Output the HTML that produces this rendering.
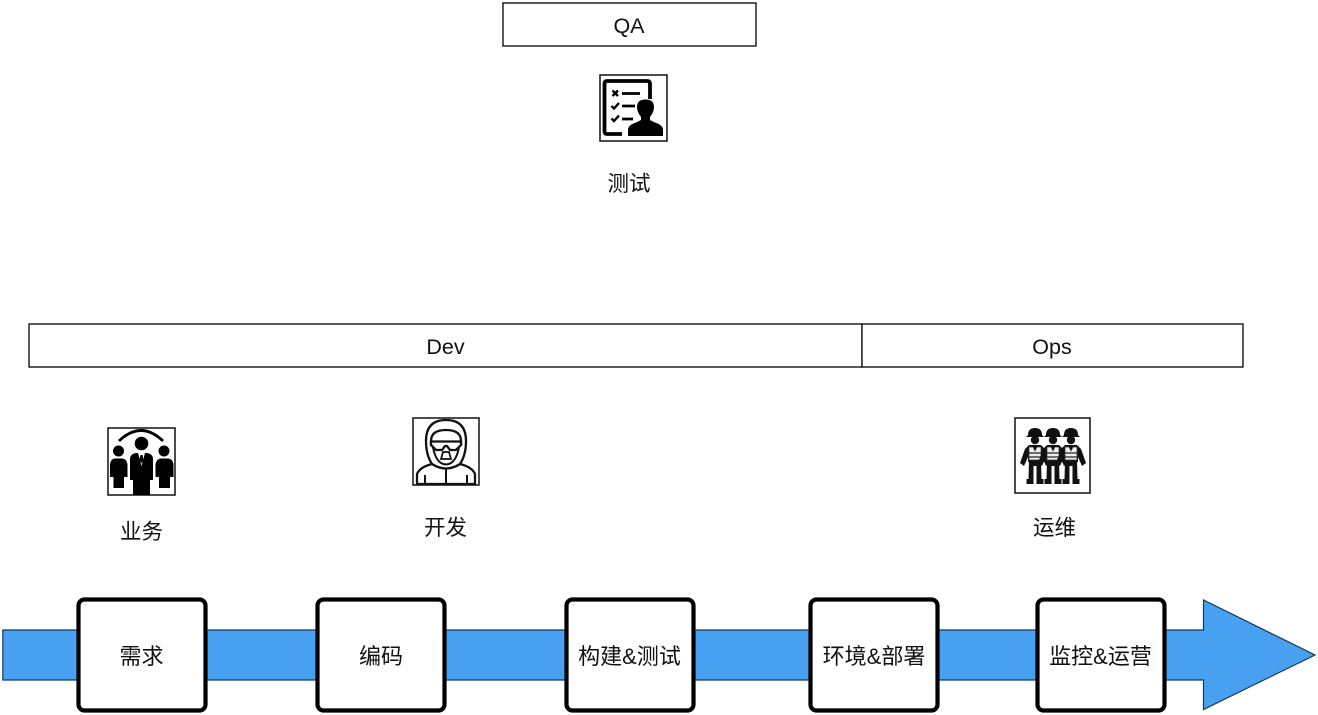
<!DOCTYPE html>
<html>
<head>
<meta charset="utf-8">
<style>
html,body{margin:0;padding:0;background:#fff;width:1318px;height:715px;overflow:hidden}
svg{display:block}
text{font-family:"Liberation Sans","Noto Sans CJK SC",sans-serif;font-size:21.5px;fill:#111;text-anchor:middle}
text.b{font-size:22px}
.bx{fill:#fff;stroke:#000;stroke-width:1.3}
.st{fill:#fff;stroke:#000;stroke-width:4.2}
.ic{fill:#fff;stroke:#111;stroke-width:1.5}
</style>
</head>
<body>
<svg width="1318" height="715" viewBox="0 0 1318 715" xmlns="http://www.w3.org/2000/svg">
<defs>
<g id="w">
<path d="M1028 435Q1028 428 1035 428Q1042 428 1042 435L1044 437H1026Z" fill="#111"/>
<circle cx="1035" cy="440" r="4.200" fill="#111"/>
<path d="M1029 445H1041L1045 449L1050 463L1046 466L1042 457V462H1028V457L1024 466L1020 463L1025 449Z" fill="#111"/>
<path d="M1029 447H1033L1035 451L1037 447H1041V460H1029Z" fill="#eee" stroke="#333" stroke-width=".7"/>
<path d="M1029 453H1041M1029 457H1041" stroke="#222" stroke-width="1.300"/>
<path d="M1029 461H1041L1041.500 479H1043.500V484H1036.500V466H1033.500V484H1026.500V479H1028.500Z" fill="#111"/>
</g>
</defs>
<rect class="bx" x="503" y="3" width="253" height="43"/>
<text x="629" y="33">QA</text>
<rect class="bx" x="29" y="324" width="833" height="43"/>
<text x="445.500" y="354">Dev</text>
<rect class="bx" x="862" y="324" width="381" height="43"/>
<text x="1052" y="354">Ops</text>

<!-- test icon -->
<rect class="ic" x="600" y="75" width="67" height="66"/>
<path d="M622 134H607Q604.500 134 604.500 131V84Q604.500 81 607 81H647Q650 81 650 84V99" fill="none" stroke="#000" stroke-width="3.800"/>
<path d="M612.500 90.500l5.500 5.500M618 90.500l-5.500 5.500" stroke="#000" stroke-width="2.400" fill="none"/>
<path d="M622 93.500h18M622 106h13M622 119h11" stroke="#000" stroke-width="2.700" fill="none"/>
<path d="M611.500 106l2.500 2.500 5-5.500M611.500 118.500l2.500 2.500 5-5.500" stroke="#000" stroke-width="2.400" fill="none"/>
<path d="M628 136V130Q628 125 636 122.500L641 120V117Q637 112 637 107Q637 99.500 645.500 99.500Q654 99.500 654 107Q654 112 650 117V120L655 122.500Q663 125 663 130V136Z" fill="#000"/>
<text x="629" y="191">测试</text>

<!-- business icon -->
<rect class="ic" x="108" y="428" width="67" height="67"/>
<path d="M119 441Q141 420 163 441" fill="none" stroke="#000" stroke-width="2.800"/>
<circle cx="141.500" cy="443.500" r="6.800" fill="#000"/>
<circle cx="118.500" cy="451" r="5.500" fill="#000"/>
<circle cx="164" cy="451" r="5.500" fill="#000"/>
<path d="M130 459Q130 454 136 453H147Q153 454 153 459V480H150V495H133V480H130Z" fill="#000"/>
<path d="M138 453L141.500 466L145 453Z" fill="#fff"/>
<path d="M140.400 455h2.200l.9 5-2 3.500-2-3.500Z" fill="#000"/>
<path d="M110 466Q110 459 115 458.500H122Q127.500 459 127.500 466V477H124V488H113.500V477H110Z" fill="#000"/>
<path d="M155.500 466Q155.500 459 161 458.500H168Q173.500 459 173.500 466V477H170V488H159V477H155.500Z" fill="#000"/>
<text x="141.500" y="539">业务</text>

<!-- dev icon -->
<rect class="ic" x="413" y="418" width="66" height="67"/>
<path d="M432 464Q426 455 426 441Q426 420 446 420Q466 420 466 441Q466 455 460 464" fill="none" stroke="#111" stroke-width="2.300"/>
<path d="M431 445V441Q431 430 446 430Q461 430 461 441V445" fill="none" stroke="#111" stroke-width="2.300"/>
<path d="M433 447Q435 459 441 463Q446 466 451 463Q457 459 459 447" fill="none" stroke="#111" stroke-width="2"/>
<path d="M431 441.500H461V445L456 450H450L447 446H445L442 450H436L431 445Z" fill="#fff" stroke="#111" stroke-width="2.300"/>
<path d="M443 452H449L451 459H441Z" fill="none" stroke="#111" stroke-width="1.800"/>
<path d="M432 464Q420 467 417 474V484H475V474Q472 467 460 464Q446 473 432 464Z" fill="none" stroke="#111" stroke-width="2.300"/>
<path d="M446 469V484M425 475V484M467 475V484" stroke="#111" stroke-width="2" fill="none"/>
<text x="445.500" y="535">开发</text>

<!-- ops icon -->
<rect class="ic" x="1015" y="418" width="75" height="75"/>
<use href="#w"/>
<use href="#w" x="18"/>
<use href="#w" x="36"/>
<text x="1054.500" y="535">运维</text>

<!-- arrow -->
<path d="M2.800 630H1203.500V600L1315 655L1203.500 709.500V680H2.800Z" fill="#47a0f0" stroke="#123a5e" stroke-width="1.200"/>

<rect class="st" x="78.500" y="599.500" width="127" height="111" rx="6"/>
<text class="b" x="141.500" y="664">需求</text>
<rect class="st" x="317.500" y="599.500" width="127" height="111" rx="6"/>
<text class="b" x="381" y="664">编码</text>
<rect class="st" x="566.500" y="599.500" width="127" height="111" rx="6"/>
<text class="b" x="629.500" y="664">构建&amp;测试</text>
<rect class="st" x="810.500" y="599.500" width="127" height="111" rx="6"/>
<text class="b" x="874" y="664">环境&amp;部署</text>
<rect class="st" x="1037.500" y="599.500" width="127" height="111" rx="6"/>
<text class="b" x="1100.500" y="664">监控&amp;运营</text>
</svg>
</body>
</html>
